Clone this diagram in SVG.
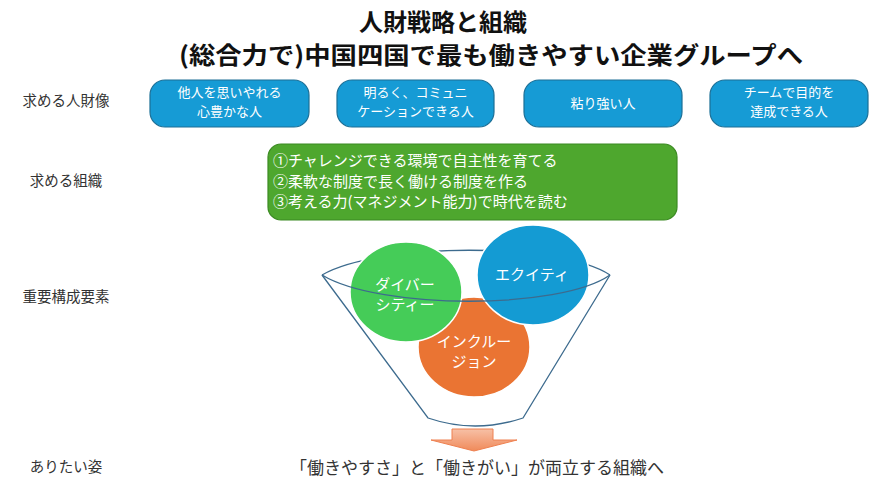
<svg xmlns="http://www.w3.org/2000/svg" width="886" height="495" viewBox="0 0 886 495">
<style>
text{font-family:"Noto Sans CJK JP","Noto Sans",sans-serif}
.title{font-size:24px;font-weight:bold;fill:#111;text-anchor:middle}
.lbl{font-size:14.5px;fill:#333;text-anchor:middle}
.pill{fill:#169bd5;stroke:#1c6f96;stroke-width:1.2}
.pt{font-size:13px;fill:#fff;text-anchor:middle}
.gt{font-size:15px;fill:#fff}
.ct{font-size:15px;fill:#fff;text-anchor:middle}
.fn{fill:none;stroke:#3d6b8e;stroke-width:1.3}
.circ{stroke:#fff;stroke-width:1.5}
</style>
<defs>
<linearGradient id="ag" x1="0" y1="0" x2="0" y2="1">
<stop offset="0" stop-color="#f7c0a6"/>
<stop offset="1" stop-color="#f08a5a"/>
</linearGradient>
</defs>
<rect width="886" height="495" fill="#fff"/>
<g id="title">
<text class="title" x="443" y="31">人財戦略と組織</text>
<text class="title" x="491" y="64" textLength="624" lengthAdjust="spacingAndGlyphs">(総合力で)中国四国で最も働きやすい企業グループへ</text>
</g>
<g id="labels">
<text class="lbl" x="66" y="106">求める人財像</text>
<text class="lbl" x="66" y="186">求める組織</text>
<text class="lbl" x="66" y="302">重要構成要素</text>
<text class="lbl" x="66" y="472">ありたい姿</text>
</g>
<g id="box1"><rect class="pill" x="150" y="80" width="159" height="47" rx="15"/><text class="pt" x="229.5" y="97">他人を思いやれる</text><text class="pt" x="229.5" y="116">心豊かな人</text></g>
<g id="box2"><rect class="pill" x="337" y="80" width="157" height="47" rx="15"/><text class="pt" x="415.5" y="97">明るく、コミュニ</text><text class="pt" x="415.5" y="116">ケーションできる人</text></g>
<g id="box3"><rect class="pill" x="524" y="80" width="158" height="47" rx="15"/><text class="pt" x="603" y="108">粘り強い人</text></g>
<g id="box4"><rect class="pill" x="710" y="80" width="158" height="47" rx="15"/><text class="pt" x="789" y="97">チームで目的を</text><text class="pt" x="789" y="116">達成できる人</text></g>
<g id="org">
<rect x="268" y="144" width="409" height="76" rx="13" fill="#4ea72e" stroke="#3b8a22" stroke-width="1.2"/>
<text class="gt" x="273" y="166">①チャレンジできる環境で自主性を育てる</text>
<text class="gt" x="273" y="187">②柔軟な制度で長く働ける制度を作る</text>
<text class="gt" x="273" y="207">③考える力(マネジメント能力)で時代を読む</text>
</g>
<g id="funnel-back">
<path class="fn" d="M322,275 C380,242 560,242 610,275"/>
<path class="fn" d="M322,275 L428,418 Q475,434 523,418 L610,275"/>
</g>
<g id="inclusion"><ellipse class="circ" cx="474" cy="347" rx="56" ry="50" fill="#ea7433"/><text class="ct" x="474" y="347">インクルー</text><text class="ct" x="474" y="367">ジョン</text></g>
<g id="diversity"><ellipse class="circ" cx="406" cy="292" rx="56" ry="50" fill="#45cc58"/><text class="ct" x="405" y="290">ダイバー</text><text class="ct" x="405" y="310">シティー</text></g>
<g id="equity"><ellipse class="circ" cx="533" cy="275" rx="56" ry="50" fill="#149bd3"/><text class="ct" x="532" y="280">エクイティ</text></g>
<g id="connectors">
<path class="fn" d="M322,275 C380,310 560,310 610,275"/>
<path d="M452,429 H493 V440 H517 L474,451 L431,440 H452 Z" fill="url(#ag)" stroke="#ee8050" stroke-width="1"/>
</g>
<g id="goal">
<text x="477" y="474" font-size="17" fill="#333" text-anchor="middle">「働きやすさ」と「働きがい」が両立する組織へ</text>
</g>
</svg>
